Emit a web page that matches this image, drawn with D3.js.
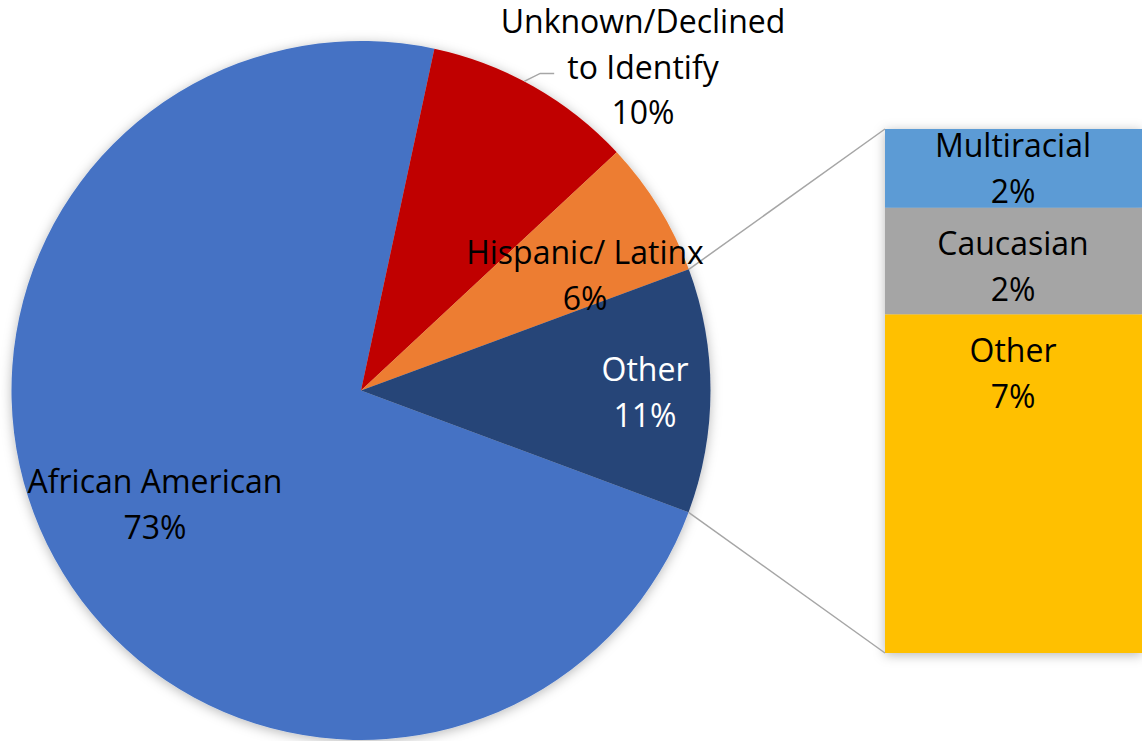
<!DOCTYPE html>
<html>
<head>
<meta charset="utf-8">
<script src="https://cdn.jsdelivr.net/npm/d3@7"></script>
<style>
  html, body { margin: 0; padding: 0; background: #fff; }
  svg { display: block; }
  text { font-family: "Open Sans", Lato, sans-serif; font-size: 32px; }
</style>
</head>
<body>
<svg id="chart" width="1142" height="741"></svg>
<script>
// ---- data ----
const pieLabels = ["African American", "Unknown/Declined|to Identify", "Hispanic/ Latinx", "Other"];
const pieValues = [72.7, 9.7, 6.3, 11.3];
const pieColors = ["#4472C4", "#C00000", "#ED7D31", "#264478"];
const pieTextColors = ["#000", "#000", "#000", "#fff"];

const barLabels = ["Multiracial", "Caucasian", "Other"];
const barValues = [1.7, 2.3, 7.3];
const barColors = ["#5B9BD5", "#A5A5A5", "#FFC000"];

// ---- layout ----
const W = 1142, H = 741;
const cx = 361, cy = 390.5, R = 349.5;
const startDeg = 110.4;
const bar = { x0: 885, x1: 1142, y0: 129, y1: 653 };
const lineH = 45.5;
// label anchor: x center, y baseline of first line
const pieLabelPos = [[155, 493], [643, 33], [585, 264], [645, 381]];
const barLabelPos = [[1013, 157], [1013, 255], [1013, 362]];

const svg = d3.select("#chart");
const defs = svg.append("defs");
const f = defs.append("filter").attr("id", "shadow")
  .attr("x", "-10%").attr("y", "-10%").attr("width", "120%").attr("height", "120%");
f.append("feDropShadow").attr("dx", 0).attr("dy", 2).attr("stdDeviation", 6)
  .attr("flood-color", "#000").attr("flood-opacity", 0.28);

const fmt = v => Math.round(v) + "%";

// ---- pie ----
const start = startDeg * Math.PI / 180;
const pie = d3.pie().sort(null).value(d => d).startAngle(start).endAngle(start + 2 * Math.PI);
const arcs = pie(pieValues);
const arc = d3.arc().innerRadius(0).outerRadius(R);

const gPie = svg.append("g").attr("transform", `translate(${cx},${cy})`);
gPie.append("g").attr("filter", "url(#shadow)")
  .selectAll("path").data(arcs).join("path")
  .attr("d", arc)
  .attr("fill", (d, i) => pieColors[i]);

// ---- bar ----
const y = d3.scaleLinear().domain([0, d3.sum(barValues)]).range([bar.y0, bar.y1]);
const cum = d3.cumsum(barValues);
const segs = barValues.map((v, i) => ({ v, a: cum[i] - v, b: cum[i] }));
svg.append("g").attr("filter", "url(#shadow)")
  .selectAll("rect").data(segs).join("rect")
  .attr("x", bar.x0).attr("width", bar.x1 - bar.x0)
  .attr("y", d => y(d.a)).attr("height", d => y(d.b) - y(d.a))
  .attr("fill", (d, i) => barColors[i]);

// ---- connector lines ----
const other = arcs[3];
const pt = a => [cx + R * Math.sin(a), cy - R * Math.cos(a)];
const pA = pt(other.startAngle), pB = pt(other.endAngle);
svg.append("line").attr("x1", pA[0]).attr("y1", pA[1]).attr("x2", bar.x0).attr("y2", y(0))
  .attr("stroke", "#A6A6A6").attr("stroke-width", 1.5);
svg.append("line").attr("x1", pB[0]).attr("y1", pB[1]).attr("x2", bar.x0).attr("y2", y(d3.sum(barValues)))
  .attr("stroke", "#A6A6A6").attr("stroke-width", 1.5);

// leader line for Unknown label
const uMid = arcs[1].startAngle + (arcs[1].endAngle - arcs[1].startAngle) * 0.45;
const pU = pt(uMid);
svg.append("polyline")
  .attr("points", `${pU[0]},${pU[1]} ${pU[0] + 16},${pU[1] - 8} ${pU[0] + 30},${pU[1] - 8}`)
  .attr("fill", "none").attr("stroke", "#A6A6A6").attr("stroke-width", 1.5);

// ---- labels ----
function label(x, yb, lines, color) {
  const t = svg.append("text").attr("text-anchor", "middle").attr("fill", color);
  lines.forEach((s, i) => t.append("tspan").attr("x", x).attr("y", yb + i * lineH).text(s));
}
pieLabels.forEach((l, i) => {
  label(pieLabelPos[i][0], pieLabelPos[i][1], [...l.split("|"), fmt(pieValues[i])], pieTextColors[i]);
});
barLabels.forEach((l, i) => {
  label(barLabelPos[i][0], barLabelPos[i][1], [l, fmt(barValues[i])], "#000");
});
</script>
</body>
</html>
